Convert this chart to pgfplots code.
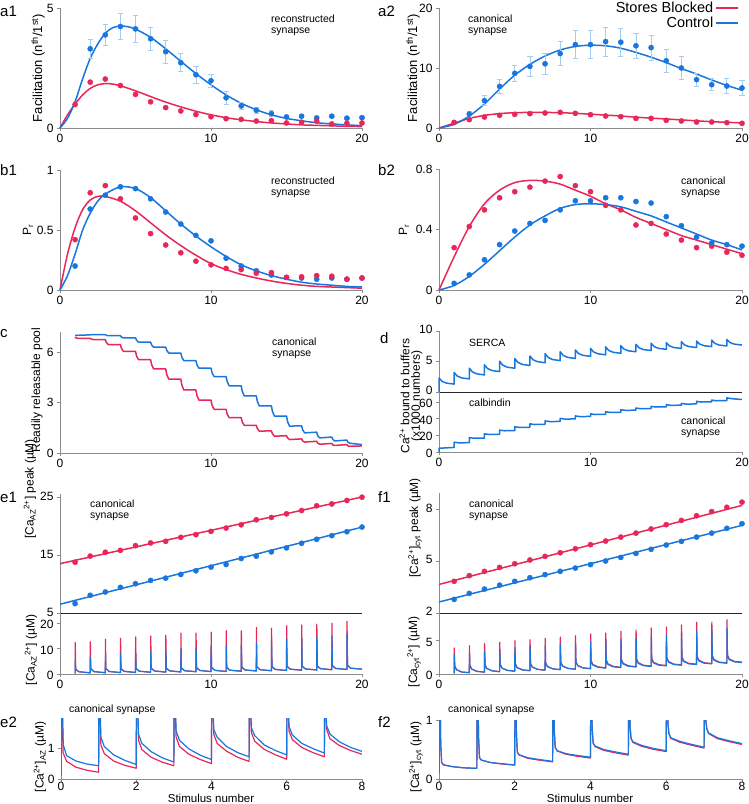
\documentclass[border=0pt]{standalone}
\usepackage{fontspec}
\setmainfont{Liberation Sans}
\usepackage{pgfplots}
\pgfplotsset{compat=1.18}

\definecolor{cred}{RGB}{232,38,88}
\definecolor{cblue}{RGB}{24,118,222}
\definecolor{cerr}{RGB}{165,205,242}
\definecolor{axgray}{RGB}{140,140,140}

\newcommand\tickfont{\fontsize{12}{13}\selectfont}
\newcommand\labfont{\fontsize{12}{13}\selectfont}
\newcommand\annfont{\fontsize{10.5}{11}\selectfont}
\newcommand\panfont{\fontsize{15}{16}\selectfont}

\pgfplotsset{
  base/.style={scale only axis, anchor=south west, axis lines=left,
    axis line style={-, axgray, line width=0.8pt},
    tick style={axgray, line width=0.7pt}, major tick length=3pt, tick align=outside,
    tick label style={font=\tickfont},
    /pgf/number format/assume math mode=true,
    enlargelimits=false, clip=false},
  curve/.style={line width=1.5pt, no marks, smooth, forget plot},
  dots/.style={only marks, mark=*, mark size=2.6pt, forget plot},
  trace/.style={line width=1.2pt, no marks, forget plot, line join=round},
  errs/.style={error bars/.cd, y dir=both, y explicit,
    error bar style={cerr, line width=0.8pt},
    error mark options={cerr, mark size=2.6pt, line width=0.8pt, rotate=90}},
  upper/.style={yticklabel style={yshift=1.5pt}},
  lower/.style={yticklabel style={yshift=-1.5pt}},
}

\begin{document}
\begin{tikzpicture}
\path[use as bounding box] (0,0) rectangle (749pt,-804pt);

% ---------- a1
\begin{axis}[base, at={(60pt,-128pt)}, width=302pt, height=120pt,
  xmin=0, xmax=20, ymin=0, ymax=5, xtick={0,10,20}, ytick={0,5}]
\addplot[curve, cred] coordinates {(0,0) (0.5,0.55) (1,1.0) (1.5,1.38) (2,1.65) (2.5,1.8) (3,1.85) (3.5,1.83) (4,1.76) (5,1.55) (6,1.31) (7,1.08) (8,0.88) (9,0.7) (10,0.55) (11,0.43) (12,0.34) (13,0.27) (14,0.21) (15,0.17) (16,0.13) (17,0.11) (18,0.09) (19,0.07) (20,0.06)};
\addplot[curve, cblue] coordinates {(0,0) (0.5,0.4) (1,1.1) (1.5,2.05) (2,2.9) (2.5,3.5) (3,3.95) (3.5,4.18) (4,4.25) (4.5,4.22) (5,4.12) (6,3.78) (7,3.3) (8,2.78) (9,2.27) (10,1.8) (11,1.38) (12,1.03) (13,0.76) (14,0.55) (15,0.4) (16,0.3) (17,0.22) (18,0.17) (19,0.13) (20,0.1)};
\addplot[dots, cblue, errs] coordinates {(2,3.30) +- (0,0.38) (3,3.88) +- (0,0.42) (4,4.23) +- (0,0.53) (5,4.13) +- (0,0.55) (6,3.72) +- (0,0.47) (7,3.18) +- (0,0.47) (8,2.72) +- (0,0.38) (9,2.22) +- (0,0.35) (10,1.97) +- (0,0.28) (11,1.26) +- (0,0.28) (12,0.92) +- (0,0.15) (13,0.74) +- (0,0.12) (14,0.60) +- (0,0.12) (15,0.46) +- (0,0.08) (16,0.49) +- (0,0.06) (17,0.42) +- (0,0.06) (18,0.49) +- (0,0.06) (19,0.41) +- (0,0.05) (20,0.43) +- (0,0.05)};
\addplot[dots, cred] coordinates {(1,0.98) (2,1.91) (3,2.04) (4,1.77) (5,1.40) (6,1.09) (7,0.85) (8,0.71) (9,0.56) (10,0.47) (11,0.39) (12,0.36) (13,0.29) (14,0.31) (15,0.21) (16,0.24) (17,0.29) (18,0.17) (19,0.20) (20,0.21)};
\end{axis}

% ---------- a2
\begin{axis}[base, at={(439pt,-128pt)}, width=303pt, height=120pt,
  xmin=0, xmax=20, ymin=0, ymax=20, xtick={0,10,20}, ytick={0,10,20},
  legend style={draw=none, fill=none, at={(0.99,1.07)}, anchor=north east,
    font=\fontsize{14.5}{15}\selectfont, inner sep=0pt, row sep=-1pt, cells={anchor=east}},
  legend plot pos=right,
  legend image code/.code={\draw[#1] (0pt,0pt) -- (22pt,0pt);}]
\addplot[curve, cred] coordinates {(0,0) (1,0.8) (2,1.6) (3,2.1) (4,2.4) (5,2.55) (6,2.6) (7,2.6) (8,2.55) (9,2.45) (10,2.3) (11,2.15) (12,2.0) (13,1.8) (14,1.65) (15,1.5) (16,1.35) (17,1.2) (18,1.05) (19,0.95) (20,0.85)};
\addplot[curve, cblue] coordinates {(0,0) (1,0.6) (2,2.0) (3,4.0) (4,6.5) (5,8.8) (6,10.6) (7,12.0) (8,13.0) (9,13.6) (10,13.8) (11,13.7) (12,13.3) (13,12.6) (14,11.8) (15,10.9) (16,9.9) (17,9.0) (18,8.0) (19,7.1) (20,6.3)};
\addplot[dots, cblue, errs] coordinates {(2,2.33) +- (0,0.5) (3,4.56) +- (0,0.8) (4,6.94) +- (0,1.2) (5,9.11) +- (0,1.4) (6,10.28) +- (0,1.7) (7,10.7) +- (0,1.7) (8,12.4) +- (0,2.0) (9,13.9) +- (0,2.3) (10,13.9) +- (0,2.3) (11,14.4) +- (0,2.4) (12,14.3) +- (0,2.3) (13,13.7) +- (0,2.1) (14,13.4) +- (0,2.1) (15,11.2) +- (0,1.9) (16,10.0) +- (0,1.9) (17,8.06) +- (0,1.1) (18,7.22) +- (0,1.0) (19,7.0) +- (0,1.2) (20,6.67) +- (0,1.2)};
\addplot[dots, cred] coordinates {(1,0.94) (2,1.39) (3,1.83) (4,2.11) (5,2.28) (6,2.39) (7,2.5) (8,2.61) (9,2.44) (10,2.22) (11,2.0) (12,1.89) (13,1.61) (14,1.61) (15,1.28) (16,1.17) (17,1.0) (18,1.0) (19,0.89) (20,0.78)};
\addlegendimage{cred, line width=1.5pt}
\addlegendentry{Stores Blocked}
\addlegendimage{cblue, line width=1.5pt}
\addlegendentry{Control}
\end{axis}

% ---------- b1
\begin{axis}[base, at={(60pt,-290pt)}, width=302pt, height=120pt,
  xmin=0, xmax=20, ymin=0, ymax=1, xtick={0,10,20}, ytick={0,0.5,1}]
\addplot[curve, cred] coordinates {(0,0) (0.5,0.3) (1,0.52) (1.5,0.67) (2,0.75) (2.5,0.78) (3,0.78) (4,0.74) (5,0.66) (6,0.56) (7,0.46) (8,0.37) (9,0.29) (10,0.22) (11,0.17) (12,0.13) (13,0.1) (14,0.075) (15,0.055) (16,0.04) (17,0.03) (18,0.025) (19,0.02) (20,0.015)};
\addplot[curve, cblue] coordinates {(0,0) (0.5,0.12) (1,0.3) (1.5,0.5) (2,0.64) (2.5,0.74) (3,0.8) (4,0.86) (5,0.845) (6,0.77) (7,0.66) (8,0.55) (9,0.45) (10,0.36) (11,0.28) (12,0.21) (13,0.16) (14,0.12) (15,0.09) (16,0.065) (17,0.05) (18,0.04) (19,0.03) (20,0.025)};
\addplot[dots, cblue] coordinates {(1,0.20) (2,0.675) (3,0.79) (4,0.86) (5,0.845) (6,0.76) (7,0.65) (8,0.55) (9,0.455) (10,0.41) (11,0.265) (12,0.20) (13,0.16) (14,0.125) (15,0.105) (16,0.10) (17,0.09) (18,0.10) (19,0.09) (20,0.10)};
\addplot[dots, cred] coordinates {(1,0.42) (2,0.81) (3,0.87) (4,0.76) (5,0.60) (6,0.47) (7,0.375) (8,0.31) (9,0.24) (10,0.21) (11,0.18) (12,0.17) (13,0.14) (14,0.145) (15,0.105) (16,0.11) (17,0.12) (18,0.115) (19,0.09) (20,0.10)};
\end{axis}

% ---------- b2
\begin{axis}[base, at={(439pt,-290pt)}, width=303pt, height=121pt,
  xmin=0, xmax=20, ymin=0, ymax=0.8, xtick={0,10,20}, ytick={0,0.4,0.8}]
\addplot[curve, cred] coordinates {(0,0) (1,0.22) (2,0.42) (3,0.57) (4,0.66) (5,0.71) (6,0.725) (7,0.72) (8,0.7) (9,0.66) (10,0.62) (11,0.57) (12,0.53) (13,0.48) (14,0.44) (15,0.4) (16,0.36) (17,0.33) (18,0.3) (19,0.27) (20,0.24)};
\addplot[curve, cblue] coordinates {(0,0) (1,0.03) (2,0.09) (3,0.17) (4,0.26) (5,0.35) (6,0.43) (7,0.49) (8,0.54) (9,0.565) (10,0.57) (11,0.565) (12,0.55) (13,0.52) (14,0.49) (15,0.45) (16,0.41) (17,0.37) (18,0.33) (19,0.3) (20,0.265)};
\addplot[dots, cred] coordinates {(1,0.28) (2,0.42) (3,0.53) (4,0.61) (5,0.65) (6,0.68) (7,0.72) (8,0.75) (9,0.69) (10,0.65) (11,0.56) (12,0.53) (13,0.43) (14,0.44) (15,0.37) (16,0.33) (17,0.28) (18,0.29) (19,0.25) (20,0.23)};
\addplot[dots, cblue] coordinates {(1,0.044) (2,0.10) (3,0.20) (4,0.30) (5,0.39) (6,0.44) (7,0.46) (8,0.53) (9,0.59) (10,0.59) (11,0.61) (12,0.61) (13,0.585) (14,0.575) (15,0.485) (16,0.425) (17,0.35) (18,0.31) (19,0.30) (20,0.29)};
\end{axis}

% ---------- c
\begin{axis}[base, at={(60pt,-453pt)}, width=302pt, height=121pt,
  xmin=0, xmax=20, ymin=0, ymax=7.2, xtick={0,10,20}, ytick={0,3,6}]
\addplot[trace, line width=1.5pt, cred] coordinates {(1,6.9) (1.07,6.85) (1.2,6.82) (2,6.82) (2.07,6.78) (2.2,6.75) (3,6.75) (3.07,6.58) (3.2,6.45) (4,6.45) (4.07,6.23) (4.2,6.05) (5,6.05) (5.07,5.77) (5.2,5.55) (6,5.55) (6.07,5.25) (6.2,5.0) (7,5.0) (7.07,4.67) (7.2,4.4) (8,4.4) (8.07,4.04) (8.2,3.75) (9,3.75) (9.07,3.42) (9.2,3.15) (10,3.15) (10.07,2.85) (10.2,2.6) (11,2.6) (11.07,2.32) (11.2,2.1) (12,2.1) (12.07,1.85) (12.2,1.65) (13,1.65) (13.07,1.46) (13.2,1.3) (14,1.32) (14.07,1.15) (14.2,1.0) (15,1.03) (15.07,0.9) (15.2,0.8) (16,0.84) (16.07,0.72) (16.2,0.65) (17,0.7) (17.07,0.58) (17.2,0.52) (18,0.57) (18.07,0.48) (18.2,0.45) (19,0.5) (19.07,0.42) (19.2,0.4) (20,0.42)};
\addplot[trace, line width=1.5pt, cblue] coordinates {(1,7.0) (2,7.03) (2.07,7.04) (2.2,7.05) (3,7.05) (3.07,7.0) (3.2,6.98) (4,6.98) (4.07,6.9) (4.2,6.85) (5,6.85) (5.07,6.71) (5.2,6.6) (6,6.6) (6.07,6.43) (6.2,6.3) (7,6.3) (7.07,6.11) (7.2,5.95) (8,5.95) (8.07,5.7) (8.2,5.5) (9,5.5) (9.07,5.25) (9.2,5.05) (10,5.05) (10.07,4.78) (10.2,4.55) (11,4.55) (11.07,4.25) (11.2,4.0) (12,4.0) (12.07,3.67) (12.2,3.4) (13,3.4) (13.07,3.07) (13.2,2.8) (14,2.8) (14.07,2.47) (14.2,2.2) (15,2.2) (15.07,1.87) (15.2,1.6) (16,1.62) (16.07,1.38) (16.2,1.2) (17,1.24) (17.07,1.03) (17.2,0.9) (18,0.95) (18.07,0.8) (18.2,0.72) (19,0.77) (19.07,0.64) (19.2,0.58) (20,0.5)};
\end{axis}

% ---------- d (SERCA)
\begin{axis}[base, upper, at={(439pt,-392pt)}, width=303pt, height=61pt,
  xmin=0, xmax=20, ymin=0, ymax=10, xtick=\empty, ytick={0,5,10},
  x axis line style={black!85, line width=0.7pt}]
\addplot[trace, line width=1.5pt, cblue] coordinates {(0,0) (0,2.3) (0.2,1.75) (0.5,1.45) (1,1.3) (1,3.2) (1.2,2.62) (1.5,2.31) (2,2.15) (2,3.9) (2.2,3.3) (2.5,2.97) (3,2.8) (3,4.45) (3.2,3.85) (3.5,3.52) (4,3.35) (4,5.05) (4.2,4.42) (4.5,4.07) (5,3.9) (5,5.5) (5.2,4.87) (5.5,4.52) (6,4.35) (6,5.9) (6.2,5.3) (6.5,4.97) (7,4.8) (7,6.3) (7.2,5.67) (7.5,5.32) (8,5.15) (8,6.6) (8.2,6.0) (8.5,5.67) (9,5.5) (9,6.9) (9.2,6.32) (9.5,6.01) (10,5.85) (10,7.15) (10.2,6.57) (10.5,6.26) (11,6.1) (11,7.4) (11.2,6.82) (11.5,6.51) (12,6.35) (12,7.6) (12.2,7.05) (12.5,6.75) (13,6.6) (13,7.8) (13.2,7.25) (13.5,6.95) (14,6.8) (14,8.0) (14.2,7.45) (14.5,7.15) (15,7.0) (15,8.1) (15.2,7.58) (15.5,7.29) (16,7.15) (16,8.25) (16.2,7.73) (16.5,7.44) (17,7.3) (17,8.35) (17.2,7.86) (17.5,7.59) (18,7.45) (18,8.5) (18.2,7.98) (18.5,7.69) (19,7.55) (19,8.6) (19.2,8.11) (19.5,7.84) (20,7.7)};
\end{axis}

% ---------- d (calbindin)
\begin{axis}[base, lower, at={(439pt,-452pt)}, width=303pt, height=60pt,
  xmin=0, xmax=20, ymin=0, ymax=72, xtick={0,10,20}, ytick={0,20,40,60}]
\addplot[trace, line width=1.5pt, cblue] coordinates {(0,0) (0,4.5) (1,5.5) (1,11.8) (1.3,11) (2,11.2) (2,17.3) (2.3,16.5) (3,16.7) (3,21.8) (3.3,21) (4,21.2) (4,26.3) (4.3,25.5) (5,25.7) (5,30.3) (5.3,29.5) (6,29.7) (6,33.8) (6.3,33) (7,33.2) (7,37.3) (7.3,36.5) (8,36.7) (8,40.3) (8.3,39.5) (9,39.7) (9,43.3) (9.3,42.5) (10,42.7) (10,45.8) (10.3,45) (11,45.2) (11,48.3) (11.3,47.5) (12,47.7) (12,50.8) (12.3,50) (13,50.2) (13,52.8) (13.3,52) (14,52.2) (14,54.8) (14.3,54) (15,54.2) (15,56.8) (15.3,56) (16,56.2) (16,58.3) (16.3,57.5) (17,57.7) (17,60.8) (17.3,60) (18,60.2) (18,62.3) (18.3,61.5) (19,61.7) (19,65) (19.3,64) (20,63)};
\end{axis}

% ---------- e1 (peaks)
\begin{axis}[base, upper, at={(60pt,-613.5pt)}, width=302pt, height=120pt,
  xmin=0, xmax=20, ymin=5, ymax=25.7, xtick=\empty, ytick={5,15,25},
  x axis line style={black!85, line width=0.7pt}]
\addplot[curve, cred] coordinates {(0,13.6) (20,25.1)};
\addplot[curve, cblue] coordinates {(0,6.6) (20,19.9)};
\addplot[dots, cred] coordinates {(1,13.85) (2,14.9) (3,15.57) (4,15.9) (5,16.7) (6,17.17) (7,17.45) (8,18.14) (9,18.6) (10,19.17) (11,19.74) (12,20.3) (13,21.17) (14,21.57) (15,22.2) (16,22.77) (17,23.58) (18,23.9) (19,24.5) (20,25.07)};
\addplot[dots, cblue] coordinates {(1,6.71) (2,8.14) (3,8.71) (4,9.51) (5,10.14) (6,10.71) (7,11.1) (8,11.74) (9,12.37) (10,13.0) (11,13.46) (12,14.49) (13,14.89) (14,15.63) (15,16.32) (16,17.11) (17,17.8) (18,18.43) (19,19.11) (20,19.91)};
\end{axis}

% ---------- e1 (traces)
\begin{axis}[base, lower, at={(60pt,-674pt)}, width=302pt, height=60.5pt,
  xmin=0, xmax=20, ymin=0, ymax=23.8, xtick={0,10,20}, ytick={0,10,20}]
\addplot[trace, cred] coordinates {(1,0.2) (1.01,12.4) (1.04,1.8) (1.25,0.9) (2,0.45) (2.01,12.7) (2.04,2.05) (2.25,0.95) (3,0.5) (3.01,13.7) (3.04,2.1) (3.25,1.0) (4,0.55) (4.01,14.1) (4.04,2.15) (4.25,1.05) (5,0.6) (5.01,14.6) (5.04,2.2) (5.25,1.1) (6,0.7) (6.01,15.0) (6.04,2.3) (6.25,1.2) (7,0.75) (7.01,15.3) (7.04,2.35) (7.25,1.25) (8,0.8) (8.01,16.1) (8.04,2.4) (8.25,1.3) (9,0.9) (9.01,16.1) (9.04,2.5) (9.25,1.4) (10,0.95) (10.01,16.5) (10.04,2.55) (10.25,1.45) (11,1.0) (11.01,17.0) (11.04,2.6) (11.25,1.5) (12,1.1) (12.01,17.0) (12.04,2.7) (12.25,1.6) (13,1.2) (13.01,18.3) (13.04,2.8) (13.25,1.7) (14,1.3) (14.01,18.0) (14.04,2.9) (14.25,1.8) (15,1.4) (15.01,19.0) (15.04,3.0) (15.25,1.9) (16,1.5) (16.01,19.3) (16.04,3.1) (16.25,2.0) (17,1.6) (17.01,19.6) (17.04,3.2) (17.25,2.1) (18,1.7) (18.01,20.0) (18.04,3.3) (18.25,2.2) (19,1.8) (19.01,20.7) (19.04,3.4) (19.25,2.3) (20,1.9)};
\addplot[trace, cblue] coordinates {(1,0.2) (1.01,5.6) (1.04,1.8) (1.25,0.9) (2,0.45) (2.01,6.5) (2.04,2.05) (2.25,0.95) (3,0.5) (3.01,7.3) (3.04,2.1) (3.25,1.0) (4,0.55) (4.01,8.2) (4.04,2.15) (4.25,1.05) (5,0.6) (5.01,8.5) (5.04,2.2) (5.25,1.1) (6,0.7) (6.01,8.9) (6.04,2.3) (6.25,1.2) (7,0.75) (7.01,9.3) (7.04,2.35) (7.25,1.25) (8,0.8) (8.01,9.8) (8.04,2.4) (8.25,1.3) (9,0.9) (9.01,10.2) (9.04,2.5) (9.25,1.4) (10,0.95) (10.01,10.8) (10.04,2.55) (10.25,1.45) (11,1.0) (11.01,11.1) (11.04,2.6) (11.25,1.5) (12,1.1) (12.01,11.5) (12.04,2.7) (12.25,1.6) (13,1.2) (13.01,12.3) (13.04,2.8) (13.25,1.7) (14,1.3) (14.01,12.8) (14.04,2.9) (14.25,1.8) (15,1.4) (15.01,13.7) (15.04,3.0) (15.25,1.9) (16,1.5) (16.01,14.0) (16.04,3.1) (16.25,2.0) (17,1.6) (17.01,14.4) (17.04,3.2) (17.25,2.1) (18,1.7) (18.01,15.0) (18.04,3.3) (18.25,2.2) (19,1.8) (19.01,15.8) (19.04,3.4) (19.25,2.3) (20,1.9)};
\end{axis}

% ---------- e2
\begin{axis}[base, at={(61pt,-779pt)}, width=301pt, height=61pt, clip=true,
  xmin=0, xmax=8, ymin=0, ymax=1.97, xtick={0,2,4,6,8}, ytick={0,1},
  xticklabel style={yshift=3pt}]
\addplot[trace, cred] coordinates {(0,0.1) (0.005,2.5) (0.03,2.5) (0.055,0.85) (0.15,0.57) (0.4,0.38) (0.7,0.28) (0.995,0.22) (1,0.22) (1.005,2.5) (1.03,2.5) (1.06,1.1) (1.15,0.82) (1.4,0.58) (1.7,0.44) (1.995,0.35) (2,0.35) (2.005,2.5) (2.03,2.5) (2.06,1.25) (2.15,0.95) (2.4,0.7) (2.7,0.54) (2.995,0.43) (3,0.43) (3.005,2.5) (3.03,2.5) (3.06,1.35) (3.15,1.05) (3.4,0.8) (3.7,0.63) (3.995,0.5) (4,0.5) (4.005,2.5) (4.03,2.5) (4.06,1.45) (4.15,1.15) (4.4,0.9) (4.7,0.7) (4.995,0.57) (5,0.57) (5.005,2.5) (5.03,2.5) (5.06,1.5) (5.15,1.22) (5.4,0.96) (5.7,0.78) (5.995,0.64) (6,0.64) (6.005,2.5) (6.03,2.5) (6.06,1.55) (6.15,1.27) (6.4,1.02) (6.7,0.85) (6.995,0.72) (7,0.72) (7.005,2.5) (7.03,2.5) (7.06,1.6) (7.15,1.3) (7.4,1.08) (7.7,0.92) (8,0.8)};
\addplot[trace, cblue] coordinates {(0,0.1) (0.005,2.5) (0.035,2.5) (0.06,1.1) (0.15,0.75) (0.4,0.58) (0.7,0.48) (0.995,0.43) (1,0.43) (1.005,2.5) (1.035,2.5) (1.06,1.35) (1.15,1.05) (1.4,0.78) (1.7,0.6) (1.995,0.47) (2,0.47) (2.005,2.5) (2.035,2.5) (2.06,1.45) (2.15,1.15) (2.4,0.88) (2.7,0.68) (2.995,0.55) (3,0.55) (3.005,2.5) (3.035,2.5) (3.06,1.55) (3.15,1.25) (3.4,0.97) (3.7,0.77) (3.995,0.63) (4,0.63) (4.005,2.5) (4.035,2.5) (4.06,1.6) (4.15,1.35) (4.4,1.05) (4.7,0.85) (4.995,0.72) (5,0.72) (5.005,2.5) (5.035,2.5) (5.06,1.65) (5.15,1.4) (5.4,1.1) (5.7,0.92) (5.995,0.78) (6,0.78) (6.005,2.5) (6.035,2.5) (6.06,1.7) (6.15,1.42) (6.4,1.15) (6.7,0.98) (6.995,0.84) (7,0.84) (7.005,2.5) (7.035,2.5) (7.06,1.72) (7.15,1.45) (7.4,1.2) (7.7,1.02) (8,0.89)};
\end{axis}

% ---------- f1 (peaks)
\begin{axis}[base, upper, at={(439pt,-613pt)}, width=303pt, height=120pt,
  xmin=0, xmax=20, ymin=2, ymax=8.97, xtick=\empty, ytick={2,5,8},
  x axis line style={black!85, line width=0.7pt}]
\addplot[curve, cred] coordinates {(0,3.66) (20,8.25)};
\addplot[curve, cblue] coordinates {(0,2.64) (20,7.09)};
\addplot[dots, cred] coordinates {(1,3.84) (2,4.17) (3,4.42) (4,4.65) (5,4.86) (6,5.08) (7,5.29) (8,5.5) (9,5.73) (10,5.97) (11,6.18) (12,6.41) (13,6.64) (14,6.88) (15,7.13) (16,7.38) (17,7.65) (18,7.89) (19,8.14) (20,8.44)};
\addplot[dots, cblue] coordinates {(1,2.79) (2,3.14) (3,3.39) (4,3.62) (5,3.84) (6,4.05) (7,4.23) (8,4.42) (9,4.61) (10,4.81) (11,5.02) (12,5.23) (13,5.46) (14,5.7) (15,5.95) (16,6.16) (17,6.41) (18,6.64) (19,6.92) (20,7.19)};
\end{axis}

% ---------- f1 (traces)
\begin{axis}[base, lower, at={(439pt,-674pt)}, width=303pt, height=61pt,
  xmin=0, xmax=20, ymin=0, ymax=9.15, xtick={0,10,20}, ytick={0,5}]
\addplot[trace, cred] coordinates {(1,0.1) (1.01,3.9) (1.04,1.2) (1.15,0.65) (1.5,0.3) (2,0.2) (2.01,4.25) (2.04,1.3) (2.15,0.75) (2.5,0.4) (3,0.28) (3.01,4.55) (3.04,1.38) (3.15,0.83) (3.5,0.48) (4,0.35) (4.01,4.75) (4.04,1.45) (4.15,0.9) (4.5,0.55) (5,0.42) (5.01,5.0) (5.04,1.52) (5.15,0.97) (5.5,0.62) (6,0.5) (6.01,5.15) (6.04,1.6) (6.15,1.05) (6.5,0.7) (7,0.58) (7.01,5.35) (7.04,1.68) (7.15,1.13) (7.5,0.78) (8,0.65) (8.01,5.55) (8.04,1.75) (8.15,1.2) (8.5,0.85) (9,0.72) (9.01,5.75) (9.04,1.82) (9.15,1.27) (9.5,0.92) (10,0.8) (10.01,6.0) (10.04,2.05) (10.15,1.45) (10.5,1.07) (11,0.93) (11.01,6.15) (11.04,2.13) (11.15,1.53) (11.5,1.15) (12,1.01) (12.01,6.4) (12.04,2.21) (12.15,1.61) (12.5,1.23) (13,1.1) (13.01,6.6) (13.04,2.3) (13.15,1.7) (13.5,1.32) (14,1.19) (14.01,6.9) (14.04,2.38) (14.15,1.78) (14.5,1.4) (15,1.28) (15.01,7.05) (15.04,2.47) (15.15,1.87) (15.5,1.49) (16,1.38) (16.01,7.35) (16.04,2.57) (16.15,1.97) (16.5,1.59) (17,1.48) (17.01,7.75) (17.04,2.67) (17.15,2.07) (17.5,1.69) (18,1.58) (18.01,7.8) (18.04,2.77) (18.15,2.17) (18.5,1.79) (19,1.68) (19.01,8.15) (19.04,2.87) (19.15,2.27) (19.5,1.89) (20,1.78)};
\addplot[trace, cblue] coordinates {(1,0.1) (1.01,2.9) (1.04,1.2) (1.15,0.65) (1.5,0.3) (2,0.2) (2.01,3.15) (2.04,1.3) (2.15,0.75) (2.5,0.4) (3,0.28) (3.01,3.45) (3.04,1.38) (3.15,0.83) (3.5,0.48) (4,0.35) (4.01,3.7) (4.04,1.45) (4.15,0.9) (4.5,0.55) (5,0.42) (5.01,3.95) (5.04,1.52) (5.15,0.97) (5.5,0.62) (6,0.5) (6.01,4.1) (6.04,1.6) (6.15,1.05) (6.5,0.7) (7,0.58) (7.01,4.3) (7.04,1.68) (7.15,1.13) (7.5,0.78) (8,0.65) (8.01,4.5) (8.04,1.75) (8.15,1.2) (8.5,0.85) (9,0.72) (9.01,4.7) (9.04,1.82) (9.15,1.27) (9.5,0.92) (10,0.8) (10.01,4.85) (10.04,1.9) (10.15,1.35) (10.5,1.0) (11,0.88) (11.01,5.05) (11.04,1.98) (11.15,1.43) (11.5,1.08) (12,0.96) (12.01,5.25) (12.04,2.06) (12.15,1.51) (12.5,1.16) (13,1.05) (13.01,5.45) (13.04,2.15) (13.15,1.6) (13.5,1.25) (14,1.13) (14.01,5.75) (14.04,2.23) (14.15,1.68) (14.5,1.33) (15,1.22) (15.01,5.85) (15.04,2.32) (15.15,1.77) (15.5,1.42) (16,1.32) (16.01,6.05) (16.04,2.42) (16.15,1.87) (16.5,1.52) (17,1.42) (17.01,6.45) (17.04,2.52) (17.15,1.97) (17.5,1.62) (18,1.52) (18.01,6.65) (18.04,2.62) (18.15,2.07) (18.5,1.72) (19,1.62) (19.01,6.9) (19.04,2.72) (19.15,2.17) (19.5,1.82) (20,1.72)};
\end{axis}

% ---------- f2
\begin{axis}[base, at={(439pt,-779pt)}, width=303pt, height=59pt, clip=true,
  xmin=0, xmax=8, ymin=0, ymax=1, xtick={0,2,4,6,8}, ytick={0,1},
  xticklabel style={yshift=3pt}]
\addplot[trace, cred] coordinates {(0,0.1) (0.005,1.4) (0.03,1.4) (0.045,0.6) (0.07,0.28) (0.12,0.24) (0.35,0.21) (0.65,0.19) (0.995,0.18) (1,0.18) (1.005,1.4) (1.03,1.4) (1.045,0.7) (1.07,0.36) (1.12,0.32) (1.35,0.28) (1.65,0.255) (1.995,0.235) (2,0.235) (2.005,1.4) (2.03,1.4) (2.045,0.75) (2.07,0.45) (2.12,0.405) (2.35,0.35) (2.65,0.32) (2.995,0.29) (3,0.29) (3.005,1.4) (3.03,1.4) (3.045,0.8) (3.07,0.53) (3.12,0.475) (3.35,0.42) (3.65,0.385) (3.995,0.355) (4,0.355) (4.005,1.4) (4.03,1.4) (4.045,0.85) (4.07,0.61) (4.12,0.55) (4.35,0.485) (4.65,0.445) (4.995,0.405) (5,0.405) (5.005,1.4) (5.03,1.4) (5.045,0.9) (5.07,0.69) (5.12,0.62) (5.35,0.555) (5.65,0.505) (5.995,0.465) (6,0.465) (6.005,1.4) (6.03,1.4) (6.045,0.95) (6.07,0.77) (6.12,0.69) (6.35,0.625) (6.65,0.575) (6.995,0.525) (7,0.525) (7.005,1.4) (7.03,1.4) (7.045,1.0) (7.07,0.85) (7.12,0.77) (7.35,0.685) (7.65,0.635) (8,0.585)};
\addplot[trace, cblue] coordinates {(0,0.1) (0.005,1.4) (0.03,1.4) (0.045,0.6) (0.07,0.28) (0.12,0.24) (0.35,0.21) (0.65,0.19) (0.995,0.18) (1,0.18) (1.005,1.4) (1.03,1.4) (1.045,0.7) (1.07,0.36) (1.12,0.32) (1.35,0.28) (1.65,0.26) (1.995,0.24) (2,0.24) (2.005,1.4) (2.03,1.4) (2.045,0.75) (2.07,0.45) (2.12,0.41) (2.35,0.36) (2.65,0.33) (2.995,0.3) (3,0.3) (3.005,1.4) (3.03,1.4) (3.045,0.8) (3.07,0.53) (3.12,0.48) (3.35,0.43) (3.65,0.4) (3.995,0.37) (4,0.37) (4.005,1.4) (4.03,1.4) (4.045,0.85) (4.07,0.61) (4.12,0.56) (4.35,0.5) (4.65,0.46) (4.995,0.42) (5,0.42) (5.005,1.4) (5.03,1.4) (5.045,0.9) (5.07,0.69) (5.12,0.63) (5.35,0.57) (5.65,0.52) (5.995,0.48) (6,0.48) (6.005,1.4) (6.03,1.4) (6.045,0.95) (6.07,0.77) (6.12,0.7) (6.35,0.64) (6.65,0.59) (6.995,0.54) (7,0.54) (7.005,1.4) (7.03,1.4) (7.045,1.0) (7.07,0.85) (7.12,0.78) (7.35,0.7) (7.65,0.65) (8,0.6)};
\end{axis}

% ---------- axis labels
\begin{scope}[every node/.style={font=\labfont, inner sep=0pt}]
\node[rotate=90, font=\fontsize{13}{14}\selectfont] at (38pt,-68pt) {Facilitation (n\textsuperscript{th}/1\textsuperscript{st})};
\node[rotate=90, font=\fontsize{13}{14}\selectfont] at (413pt,-68pt) {Facilitation (n\textsuperscript{th}/1\textsuperscript{st})};
\node[rotate=90] at (28pt,-230pt) {P\textsubscript{r}};
\node[rotate=90] at (404pt,-230pt) {P\textsubscript{r}};
\node[rotate=90] at (37pt,-390pt) {Readily releasable pool};
\node[rotate=90, align=center, font=\fontsize{12}{10.5}\selectfont] at (411pt,-396pt) {Ca\textsuperscript{2+} bound to buffers\\(x1000 numbers)};
\node[rotate=90] at (30pt,-489pt) {[Ca\textsubscript{AZ}\textsuperscript{2+}] peak (µM)};
\node[rotate=90] at (31pt,-650pt) {[Ca\textsubscript{AZ}\textsuperscript{2+}] (µM)};
\node[rotate=90] at (40pt,-757pt) {[Ca\textsuperscript{2+}]\textsubscript{AZ} (µM)};
\node[rotate=90] at (415pt,-528pt) {[Ca\textsuperscript{2+}]\textsubscript{cyt} peak (µM)};
\node[rotate=90] at (414pt,-652pt) {[Ca\textsubscript{cyt}\textsuperscript{2+}] (µM)};
\node[rotate=90] at (416pt,-757pt) {[Ca\textsuperscript{2+}]\textsubscript{cyt} (µM)};
\node[anchor=base, font=\fontsize{11.5}{12}\selectfont] at (211pt,-802.5pt) {Stimulus number};
\node[anchor=base, font=\fontsize{11.5}{12}\selectfont] at (590pt,-802.5pt) {Stimulus number};
\end{scope}

% ---------- annotations
\begin{scope}[every node/.style={font=\annfont, inner sep=0pt, anchor=west, align=left}]
\node at (271pt,-25.5pt) {reconstructed\\synapse};
\node at (468pt,-25.5pt) {canonical\\synapse};
\node at (271pt,-187pt) {reconstructed\\synapse};
\node at (681pt,-187pt) {canonical\\synapse};
\node at (272pt,-348.5pt) {canonical\\synapse};
\node at (469pt,-343pt) {SERCA};
\node at (469pt,-403pt) {calbindin};
\node at (681pt,-427pt) {canonical\\synapse};
\node at (90pt,-510pt) {canonical\\synapse};
\node at (469pt,-510pt) {canonical\\synapse};
\node at (69pt,-710pt) {canonical synapse};
\node at (448pt,-710pt) {canonical synapse};
\end{scope}

% ---------- panel letters
\begin{scope}[every node/.style={font=\panfont, inner sep=0pt, anchor=base west}]
\node at (0pt,-16.5pt) {a1};
\node at (378pt,-16.5pt) {a2};
\node at (0pt,-175pt) {b1};
\node at (378pt,-175pt) {b2};
\node at (0pt,-337pt) {c};
\node at (380pt,-343pt) {d};
\node at (0pt,-502pt) {e1};
\node at (378pt,-502pt) {f1};
\node at (0pt,-727pt) {e2};
\node at (378pt,-727pt) {f2};
\end{scope}
\end{tikzpicture}
\end{document}
